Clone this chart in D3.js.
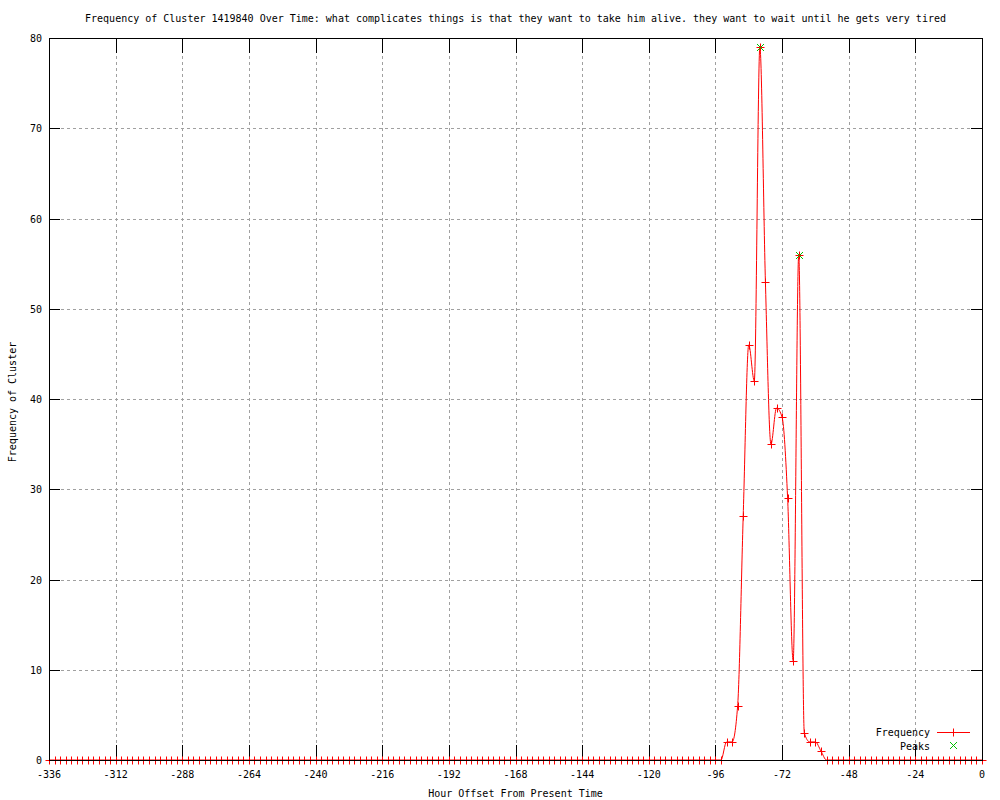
<html>
<head>
<script src="https://d3js.org/d3.v7.min.js"></script>
<style>
  body { margin: 0; background: #fff; }
  text { font-family: "DejaVu Sans Mono", monospace; font-size: 10px; fill: #000; }
</style>
</head>
<body>
<script>
// hours, one sample every 2 hours from -336 to 0
var hours = d3.range(-336, 1, 2);
// frequency per sample
var freq = [
  0,0,0,0,0,0,0,0,0,0,0,0,0,0,0,0,0,0,0,0,
  0,0,0,0,0,0,0,0,0,0,0,0,0,0,0,0,0,0,0,0,
  0,0,0,0,0,0,0,0,0,0,0,0,0,0,0,0,0,0,0,0,
  0,0,0,0,0,0,0,0,0,0,0,0,0,0,0,0,0,0,0,0,
  0,0,0,0,0,0,0,0,0,0,0,0,0,0,0,0,0,0,0,0,
  0,0,0,0,0,0,0,0,0,0,0,0,0,0,0,0,0,0,0,0,
  0,0,
  2,2,6,27,46,42,79,53,35,39,38,29,11,56,3,2,2,1,
  0,0,0,0,0,0,0,0,0,0,0,0,0,0,0,0,0,0,0,0,
  0,0,0,0,0,0,0,0,0
];
var peakHours = [-80, -66];
var peakFreq = [79, 56];
var xTicks = [-336, -312, -288, -264, -240, -216, -192, -168, -144, -120, -96, -72, -48, -24, 0];
var yTicks = [0, 10, 20, 30, 40, 50, 60, 70, 80];

var title = "Frequency of Cluster 1419840 Over Time: what complicates things is that they want to take him alive. they want to wait until he gets very tired";

var W = 1000, H = 800;
var pLeft = 49, pRight = 982, pTop = 38, pBottom = 760;

var data = hours.map(function(h, i){ return {h: h, v: freq[i]}; });
var peaks = peakHours.map(function(h, i){ return {h: h, v: peakFreq[i]}; });

var x = d3.scaleLinear().domain([-336, 0]).range([pLeft, pRight]);
var y = d3.scaleLinear().domain([0, 80]).range([pBottom, pTop]);

var svg = d3.select("body").append("svg").attr("width", W).attr("height", H);

// grid
var grid = svg.append("g").attr("stroke", "#a0a0a0").attr("stroke-dasharray", "3,3").attr("shape-rendering", "crispEdges");
grid.selectAll(".gx").data(xTicks.slice(1, -1)).enter().append("line")
  .attr("x1", function(d){ return Math.round(x(d)) + 0.5; })
  .attr("x2", function(d){ return Math.round(x(d)) + 0.5; })
  .attr("y1", pTop).attr("y2", pBottom);
grid.selectAll(".gy").data(yTicks.slice(1, -1)).enter().append("line")
  .attr("y1", function(d){ return Math.round(y(d)) + 0.5; })
  .attr("y2", function(d){ return Math.round(y(d)) + 0.5; })
  .attr("x1", pLeft).attr("x2", pRight);

// axes (inward ticks, mirrored)
var xb = d3.axisTop(x).tickValues(xTicks).tickSize(15).tickFormat("");
var xt = d3.axisBottom(x).tickValues(xTicks).tickSize(15).tickFormat("");
var yl = d3.axisRight(y).tickValues(yTicks).tickSize(11).tickFormat("");
var yr = d3.axisLeft(y).tickValues(yTicks).tickSize(11).tickFormat("");
[[xb, "translate(0," + pBottom + ")"], [xt, "translate(0," + pTop + ")"],
 [yl, "translate(" + pLeft + ",0)"], [yr, "translate(" + pRight + ",0)"]].forEach(function(a){
  var g = svg.append("g").attr("transform", a[1]).call(a[0]);
  g.select(".domain").remove();
  g.selectAll("line").attr("stroke", "#000").attr("shape-rendering", "crispEdges");
});

// tick labels
svg.append("g").selectAll("text").data(xTicks).enter().append("text")
  .attr("x", function(d){ return x(d); }).attr("y", 778)
  .attr("text-anchor", "middle")
  .text(function(d){ return d; });
svg.append("g").selectAll("text").data(yTicks).enter().append("text")
  .attr("x", 42).attr("y", function(d){ return y(d) + 4; })
  .attr("text-anchor", "end")
  .text(function(d){ return d; });

// line
var line = d3.line().x(function(d){ return x(d.h); }).y(function(d){ return y(d.v); }).curve(d3.curveMonotoneX);
svg.append("path").datum(data).attr("d", line)
  .attr("fill", "none").attr("stroke", "#ff0000").attr("stroke-width", 1);

// + markers
function plus(g, cx, cy, color) {
  g.append("line").attr("x1", cx - 4).attr("x2", cx + 4).attr("y1", cy).attr("y2", cy).attr("stroke", color);
  g.append("line").attr("x1", cx).attr("x2", cx).attr("y1", cy - 4).attr("y2", cy + 4).attr("stroke", color);
}
function cross(g, cx, cy, color) {
  g.append("line").attr("x1", cx - 3.5).attr("x2", cx + 3.5).attr("y1", cy - 3.5).attr("y2", cy + 3.5).attr("stroke", color);
  g.append("line").attr("x1", cx - 3.5).attr("x2", cx + 3.5).attr("y1", cy + 3.5).attr("y2", cy - 3.5).attr("stroke", color);
}
var marks = svg.append("g");
data.forEach(function(d){ plus(marks, Math.round(x(d.h)) + 0.5, Math.round(y(d.v)) + 0.5, "#ff0000"); });
var pk = svg.append("g");
peaks.forEach(function(d){ cross(pk, Math.round(x(d.h)) + 0.5, Math.round(y(d.v)) + 0.5, "#00c000"); });

// border
svg.append("rect").attr("x", pLeft + 0.5).attr("y", pTop + 0.5)
  .attr("width", pRight - pLeft).attr("height", pBottom - pTop)
  .attr("fill", "none").attr("stroke", "#000").attr("shape-rendering", "crispEdges");

// titles
svg.append("text").attr("x", (pLeft + pRight) / 2).attr("y", 22).attr("text-anchor", "middle").text(title);
svg.append("text").attr("x", (pLeft + pRight) / 2).attr("y", 797).attr("text-anchor", "middle").text("Hour Offset From Present Time");
svg.append("text").attr("transform", "translate(16," + 402 + ") rotate(-90)").attr("text-anchor", "middle").text("Frequency of Cluster");

// legend
svg.append("text").attr("x", 930).attr("y", 736).attr("text-anchor", "end").text("Frequency");
svg.append("text").attr("x", 930).attr("y", 750).attr("text-anchor", "end").text("Peaks");
svg.append("line").attr("x1", 937).attr("x2", 970).attr("y1", 732.5).attr("y2", 732.5).attr("stroke", "#ff0000");
plus(svg, 953.5, 732.5, "#ff0000");
cross(svg, 953.5, 745.5, "#00c000");
</script>
</body>
</html>
